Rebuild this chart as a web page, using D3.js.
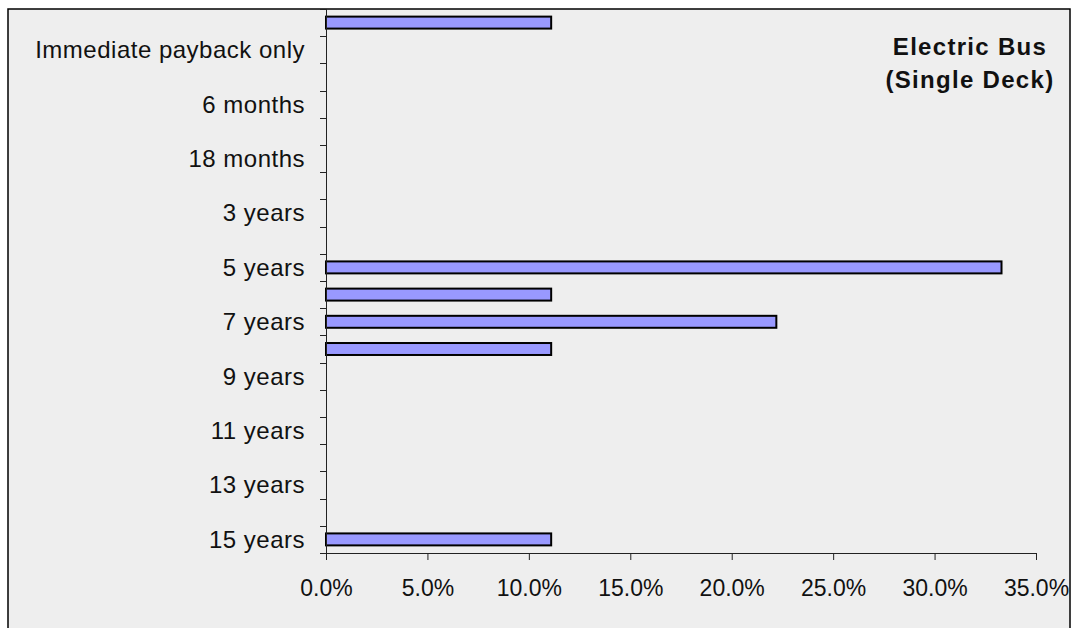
<!DOCTYPE html>
<html>
<head>
<meta charset="utf-8">
<script src="https://cdn.jsdelivr.net/npm/d3@7"></script>
<style>
  body { margin: 0; background: #ffffff; }
  text { font-family: "Liberation Sans", Arial, sans-serif; fill: #111; }
</style>
</head>
<body>
<div id="chart-container"></div>
<script>
// Payback categories, top to bottom (Excel shows only every other label)
var categories = [
  "Never", "Immediate payback only", "3 months", "6 months", "12 months",
  "18 months", "2 years", "3 years", "4 years", "5 years", "6 years",
  "7 years", "8 years", "9 years", "10 years", "11 years", "12 years",
  "13 years", "14 years", "15 years"
];
// share of respondents
var shares = [
  0.111, 0, 0, 0, 0, 0, 0, 0, 0, 0.333, 0.111,
  0.222, 0.111, 0, 0, 0, 0, 0, 0, 0.111
];
var xTicks = [0, 0.05, 0.10, 0.15, 0.20, 0.25, 0.30, 0.35];
var titleLines = ["Electric Bus", "(Single Deck)"];

var data = categories.map(function(c, i) { return { name: c, value: shares[i] }; });

var W = 1073, H = 628;
var margin = { top: 9, right: 37, bottom: 75, left: 326 },
  width = W - margin.left - margin.right,
  height = H - margin.top - margin.bottom;

var root = d3.select("#chart-container")
  .append("svg")
  .attr("width", W)
  .attr("height", H);

// chart area background + frame (bottom edge falls outside the picture)
root.append("rect")
  .attr("x", 8)
  .attr("y", 9)
  .attr("width", 1062)
  .attr("height", 640)
  .attr("fill", "#eeeeee")
  .attr("stroke", "#000")
  .attr("stroke-width", 1.5);

var svg = root.append("g")
  .attr("transform", "translate(" + margin.left + "," + margin.top + ")");

var xScale = d3.scaleLinear()
  .domain([0, 0.35])
  .range([0, width]);

var yScale = d3.scaleBand()
  .domain(categories)
  .range([0, height])
  .paddingInner(0.56)
  .paddingOuter(0.28);

var band = height / categories.length;

// bars
svg.selectAll(".bar")
  .data(data.filter(function(d) { return d.value > 0; }))
  .enter()
  .append("rect")
  .attr("class", "bar")
  .attr("x", 0)
  .attr("y", function(d) { return yScale(d.name); })
  .attr("width", function(d) { return xScale(d.value); })
  .attr("height", yScale.bandwidth())
  .attr("fill", "#9999ff")
  .attr("stroke", "#000")
  .attr("stroke-width", 2);

// x axis
var xAxis = svg.append("g")
  .attr("class", "x-axis")
  .attr("transform", "translate(0," + height + ")")
  .call(d3.axisBottom(xScale).tickValues(xTicks).tickSize(7).tickPadding(20).tickFormat(d3.format(".1%")));
xAxis.select(".domain").attr("stroke", "#222").attr("d", "M0.5,0.5H" + (width + 0.5));
xAxis.selectAll(".tick line").attr("stroke", "#222");
xAxis.selectAll("text").style("font-size", "23px").attr("fill", "#111");

// y axis: ticks on band boundaries, labels on every other category
var yAxis = svg.append("g").attr("class", "y-axis");
yAxis.append("line")
  .attr("x1", 0.5).attr("x2", 0.5)
  .attr("y1", 0).attr("y2", height)
  .attr("stroke", "#222");
yAxis.selectAll(".ytick")
  .data(d3.range(categories.length + 1))
  .enter()
  .append("line")
  .attr("x1", -6).attr("x2", 0)
  .attr("y1", function(i) { return Math.round(i * band) + 0.5; })
  .attr("y2", function(i) { return Math.round(i * band) + 0.5; })
  .attr("stroke", "#222");
yAxis.selectAll(".ylabel")
  .data(categories.filter(function(c, i) { return i % 2 === 1; }))
  .enter()
  .append("text")
  .attr("x", -21)
  .attr("y", function(c) { return yScale(c) + yScale.bandwidth() / 2; })
  .attr("dy", "0.35em")
  .attr("text-anchor", "end")
  .style("font-size", "24px")
  .style("letter-spacing", "0.5px")
  .text(function(c) { return c; });

// title in the top right
root.append("g")
  .selectAll("text")
  .data(titleLines)
  .enter()
  .append("text")
  .attr("x", 970)
  .attr("y", function(d, i) { return 47 + i * 33; })
  .attr("dy", "0.35em")
  .attr("text-anchor", "middle")
  .style("font-size", "24px")
  .style("font-weight", "bold")
  .style("letter-spacing", "1.3px")
  .text(function(d) { return d; });
</script>
</body>
</html>
